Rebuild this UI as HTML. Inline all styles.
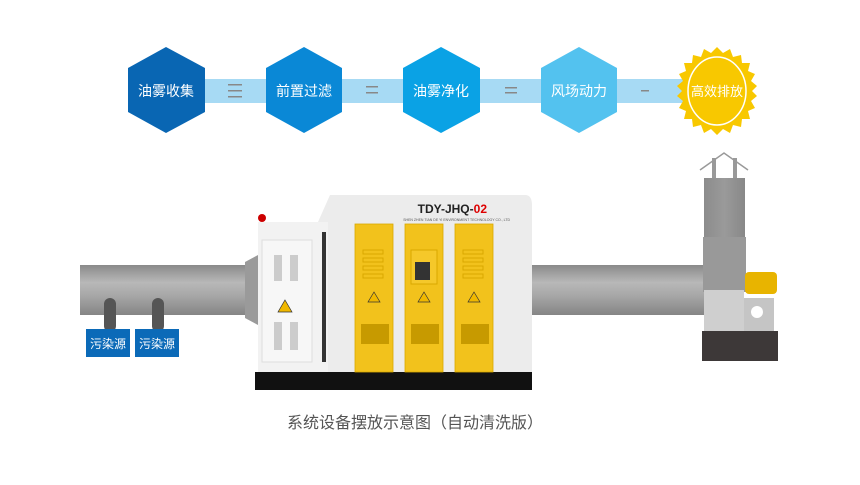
<!DOCTYPE html>
<html><head><meta charset="utf-8"><style>
body{margin:0;background:#fff;width:860px;height:480px;overflow:hidden}
svg text{font-family:"Liberation Sans","Noto Sans CJK SC",sans-serif}
</style></head><body>
<svg width="860" height="480" viewBox="0 0 860 480">
<defs>
<linearGradient id="pipe" x1="0" y1="0" x2="0" y2="1">
<stop offset="0" stop-color="#8a8a8a"/><stop offset="0.35" stop-color="#b8b8b8"/><stop offset="0.6" stop-color="#a8a8a8"/><stop offset="1" stop-color="#858585"/></linearGradient>
<linearGradient id="stack" x1="0" y1="0" x2="1" y2="0">
<stop offset="0" stop-color="#8c8c8c"/><stop offset="0.5" stop-color="#9a9a9a"/><stop offset="1" stop-color="#888"/></linearGradient>
</defs>
<rect x="165" y="79" width="560" height="24" fill="#a7daf4"/>
<g fill="#888">
<rect x="228" y="84" width="14" height="1.5"/><rect x="228" y="90" width="14" height="1.5"/><rect x="228" y="96" width="14" height="1.5"/>
<rect x="366" y="86" width="12" height="1.5"/><rect x="366" y="92" width="12" height="1.5"/>
<rect x="505" y="87" width="12" height="1.5"/><rect x="505" y="92" width="12" height="1.5"/>
<rect x="641" y="90" width="8" height="1.5"/>
</g>
<polygon points="166,47 205,68 205,112 166,133 128,112 128,68" fill="#0966b3"/>
<polygon points="304,47 342,68 342,112 304,133 266,112 266,68" fill="#0a88d6"/>
<polygon points="441,47 480,68 480,112 441,133 403,112 403,68" fill="#0aa2e5"/>
<polygon points="579,47 617,68 617,112 579,133 541,112 541,68" fill="#53c2ef"/>
<g transform="translate(717,91)">
<polygon fill="#f8c800" points="
0,-44 6,-38 13,-42 16,-34 24,-36 25,-28 33,-28 31,-20 38,-17 34,-10 40,-5 35,0 40,5 34,10 38,17 31,20 33,28 25,28 24,36 16,34 13,42 6,38 0,44 -6,38 -13,42 -16,34 -24,36 -25,28 -33,28 -31,20 -38,17 -34,10 -40,5 -35,0 -40,-5 -34,-10 -38,-17 -31,-20 -33,-28 -25,-28 -24,-36 -16,-34 -13,-42 -6,-38"/>
<ellipse rx="29" ry="34" fill="none" stroke="#fff" stroke-width="1.5"/>
</g>
<g fill="#fff" font-size="14" text-anchor="middle">
<text x="166" y="96">油雾收集</text><text x="304" y="96">前置过滤</text><text x="441" y="96">油雾净化</text><text x="579" y="96">风场动力</text><text x="717" y="96" font-size="13">高效排放</text>
</g>
<rect x="80" y="265" width="178" height="50" fill="url(#pipe)"/>
<polygon points="245,262 258,255 258,325 245,318" fill="#9a9a9a"/>
<rect x="530" y="265" width="178" height="50" fill="url(#pipe)"/>
<rect x="104" y="298" width="12" height="34" rx="6" fill="#555"/>
<rect x="152" y="298" width="12" height="34" rx="6" fill="#555"/>
<rect x="86" y="329" width="44" height="28" fill="#0b6ab8"/>
<rect x="135" y="329" width="44" height="28" fill="#0b6ab8"/>
<text x="108" y="348" fill="#fff" font-size="12" text-anchor="middle">污染源</text>
<text x="157" y="348" fill="#fff" font-size="12" text-anchor="middle">污染源</text>
<polyline points="700,170 724,153 748,170" fill="none" stroke="#999" stroke-width="1.5"/>
<rect x="712" y="158" width="4" height="22" fill="#999"/><rect x="733" y="158" width="4" height="22" fill="#999"/>
<rect x="704" y="178" width="41" height="110" fill="url(#stack)"/>
<rect x="703" y="237" width="43" height="55" fill="#999"/>
<rect x="704" y="290" width="40" height="42" fill="#cfcfcf"/>
<rect x="744" y="298" width="30" height="34" fill="#c5c5c5"/>
<circle cx="757" cy="312" r="6" fill="#fff"/>
<rect x="745" y="272" width="32" height="22" rx="4" fill="#e8b400"/>
<rect x="702" y="331" width="76" height="30" fill="#3d3838"/>
<path d="M318,222 L330,195 L525,195 Q532,195 532,205 L532,372 L258,372 L258,222 Z" fill="#ececec"/>
<rect x="258" y="222" width="70" height="150" fill="#f2f2f2"/>
<rect x="262" y="240" width="50" height="122" fill="#f7f7f7" stroke="#ddd"/>
<g fill="#ccc"><rect x="274" y="255" width="8" height="26"/><rect x="290" y="255" width="8" height="26"/><rect x="274" y="322" width="8" height="28"/><rect x="290" y="322" width="8" height="28"/></g>
<polygon points="285,300 292,312 278,312" fill="#f0b800" stroke="#333" stroke-width="0.7"/>
<rect x="322" y="232" width="4" height="130" fill="#333"/>
<circle cx="262" cy="218" r="4" fill="#c00"/>
<rect x="255" y="372" width="277" height="18" fill="#111"/>
<text x="487" y="213" font-size="12" font-weight="bold" fill="#222" text-anchor="end" font-family="Liberation Mono">TDY-JHQ-<tspan fill="#d00">02</tspan></text>
<text x="510" y="221" font-size="3.5" fill="#555" text-anchor="end">SHEN ZHEN TIAN DE YI ENVIRONMENT TECHNOLOGY CO., LTD</text>
<g fill="#f2c21c" stroke="#d9a800" stroke-width="0.8">
<rect x="355" y="224" width="38" height="148"/><rect x="405" y="224" width="38" height="148"/><rect x="455" y="224" width="38" height="148"/>
</g>
<g fill="none" stroke="#d9a800"><rect x="363" y="250" width="20" height="4"/><rect x="363" y="258" width="20" height="4"/><rect x="363" y="266" width="20" height="4"/><rect x="363" y="274" width="20" height="4"/>
<rect x="463" y="250" width="20" height="4"/><rect x="463" y="258" width="20" height="4"/><rect x="463" y="266" width="20" height="4"/><rect x="463" y="274" width="20" height="4"/></g>
<rect x="411" y="250" width="26" height="34" fill="#f5c82a" stroke="#d9a800"/>
<rect x="415" y="262" width="15" height="18" fill="#333"/>
<g fill="#c79a00"><rect x="361" y="324" width="28" height="20"/><rect x="411" y="324" width="28" height="20"/><rect x="461" y="324" width="28" height="20"/></g>
<g fill="#f0b800" stroke="#333" stroke-width="0.7"><polygon points="374,292 380,302 368,302"/><polygon points="424,292 430,302 418,302"/><polygon points="474,292 480,302 468,302"/></g>
<text x="415" y="428" font-size="16" fill="#555" text-anchor="middle">系统设备摆放示意图（自动清洗版）</text>
</svg>
</body></html>
